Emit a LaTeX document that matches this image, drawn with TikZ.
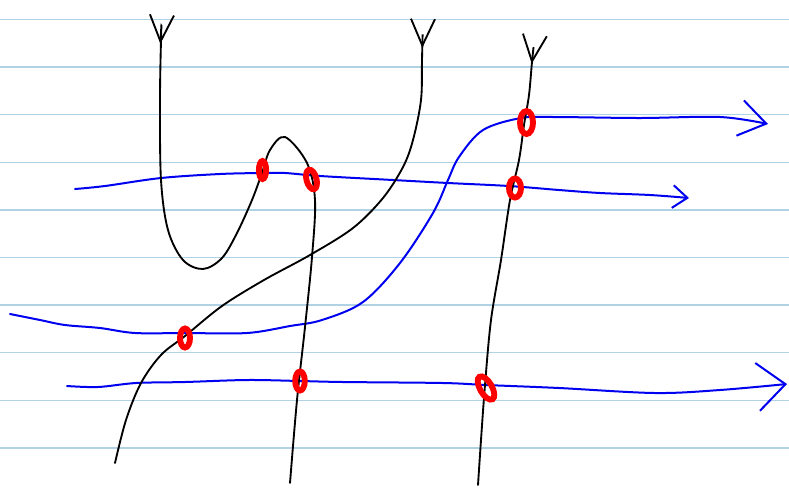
\documentclass[tikz,border=0pt]{standalone}
\usepackage{tikz}
\usetikzlibrary{arrows.meta}
\definecolor{SketchRule}{HTML}{AFD2E4}
\definecolor{SketchKnot}{HTML}{000000}
\definecolor{SketchBand}{HTML}{0000F0}
\definecolor{SketchMark}{HTML}{FF0000}
\begin{document}
\begin{tikzpicture}[x=0.75pt,y=-0.75pt,
    knot/.style={SketchKnot,line width=1.4pt,line cap=round,
      -{Straight Barb[reversed,length=20pt,width=18pt,line width=1.4pt]}},
    band/.style={SketchBand,line width=1.5pt,line cap=round},
    crossmark/.style={SketchMark,line width=4.4pt}]
      \useasboundingbox (0,0) rectangle (789,487);
      \fill[white] (0,0) rectangle (789,487);
      \foreach \k in {0,...,9}
        \draw[SketchRule,line width=1.1pt] (0,19.5+47.6*\k) -- (789,19.5+47.6*\k);
      \draw[band,-{Straight Barb[length=20pt,width=27pt,line width=1.5pt]}] plot[smooth,tension=0.55] coordinates
        {(10,314) (40,320) (65,325) (100,328) (135,333) (185,333) (247,333) (290,326) (322,320)
         (363,302) (400,263) (433,213) (448,180) (459,157) (483,130) (521,118) (555,117) (640,118)
         (720,117) (768,124)};
      \draw[band,-{Straight Barb[length=11pt,width=17pt,line width=1.5pt]}] plot[smooth,tension=0.55] coordinates
        {(75,189) (105,186) (161,178) (220,174) (262,173) (285,173) (320,176) (393,180) (448,183)
         (509,186) (559,190) (600,193) (650,195) (689,198)};
      \draw[band,-{Straight Barb[length=21pt,width=36pt,line width=1.5pt]}] plot[smooth,tension=0.55] coordinates
        {(67,386) (98,387) (136,383) (185,382) (247,380) (300,381) (343,382) (443,383) (486,385)
         (559,388) (655,393) (720,390) (787,384)};
      \draw[knot] plot[smooth,tension=0.55] coordinates
        {(290,483) (297,400) (305,327) (312,257) (315,200) (307,163) (285,137) (270,150) (262,173)
         (252,200) (237,233) (222,258) (203,269) (183,260) (168,230) (161,180) (160,100) (161,40) (162,14)};
      \draw[knot] plot[smooth,tension=0.55] coordinates
        {(115,463) (126,420) (141,383) (161,355) (185,336) (222,306) (264,280) (310,255) (353,228)
         (383,198) (403,167) (413,140) (421,100) (422,60) (423,18)};
      \draw[knot] plot[smooth,tension=0.55] coordinates
        {(478,485) (481,440) (485,385) (491,320) (501,260) (510,200) (519,160) (524,125) (529,95)
         (532,62) (535,34)};
      \draw[crossmark] (262.5,170) ellipse (3.6 and 9);
      \draw[crossmark,rotate around={15:(311.5,179.5)}] (311.5,179.5) ellipse (5 and 10);
      \draw[crossmark] (526.5,122.5) ellipse (6.5 and 11.5);
      \draw[crossmark] (515,188) ellipse (6 and 9.5);
      \draw[crossmark] (185,338) ellipse (5 and 9.5);
      \draw[crossmark] (300,381) ellipse (4.8 and 9.5);
      \draw[crossmark,rotate around={30:(486,388)}] (486,388) ellipse (6 and 13);
    \end{tikzpicture}
\end{document}
